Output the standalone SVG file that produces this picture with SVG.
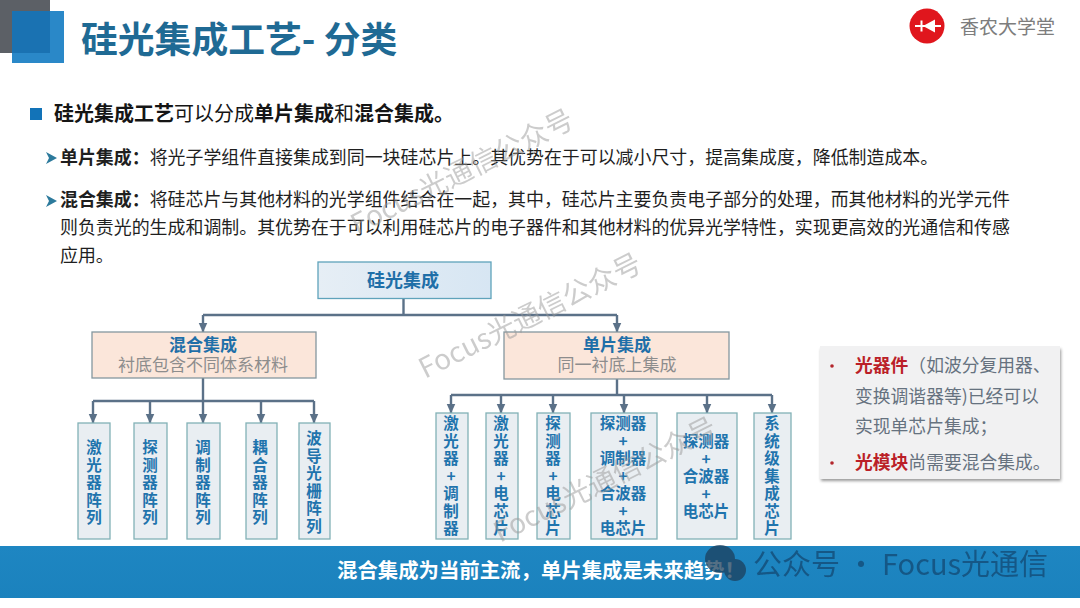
<svg xmlns="http://www.w3.org/2000/svg" width="1080" height="608" viewBox="0 0 1080 608">
<style>
text{font-family:"Noto Sans CJK SC","Microsoft YaHei",sans-serif}
.b{font-weight:700}
.t{fill:#1f1f1f;font-size:17.93px}
.h{fill:#151515;font-size:20px}
.lf{fill:#e9eef2;stroke:#82b1b6;stroke-width:1.3}
.lt{fill:#1f74ad;font-size:15.5px;font-weight:700;text-anchor:middle}
.pe{fill:#fbe6da;stroke:#84979f;stroke-width:1.3}
.pt{fill:#1f6fa8;font-size:17px;font-weight:700;text-anchor:middle}
.ps{fill:#8d8d8d;font-size:17px;text-anchor:middle}
.c{fill:none;stroke:#5b7188;stroke-width:2.4}
.s{fill:#66727f;font-size:17.8px}
.r{fill:#bb1f28;font-weight:700}
.w{fill:#9a9a9a;opacity:.5;font-size:28px}
</style>
<defs>
<marker id="a" markerUnits="userSpaceOnUse" markerWidth="11" markerHeight="10" refX="9.5" refY="4.5" orient="auto"><path d="M0 0L10 4.5L0 9z" fill="#5b7188"/></marker>
<filter id="sh" x="-5%" y="-5%" width="110%" height="115%"><feGaussianBlur stdDeviation="1.6"/></filter>
<linearGradient id="rg" x1="0" y1="0" x2="1" y2="0"><stop offset="0" stop-color="#e6eef5"/><stop offset="1" stop-color="#d7e6f3"/></linearGradient>
<linearGradient id="bg" x1="0" y1="0" x2="0" y2="1"><stop offset="0" stop-color="#1e86c2"/><stop offset="1" stop-color="#1b82bd"/></linearGradient>
</defs>
<rect width="1080" height="608" fill="#fff"/>

<g id="header">
<rect x="0" y="0" width="50" height="53" fill="#5c6066"/>
<rect x="12" y="11" width="52" height="52" fill="#2a88c8"/>
<rect x="12" y="11" width="38" height="42" fill="#1a72b2"/>
<text x="81" y="53" class="b" font-size="36.800" fill="#1f6a94">硅光集成工艺- 分类</text>
</g>
<g id="logo">
<circle cx="927" cy="26" r="17.5" fill="#e0161d"/>
<path d="M915 26H941" stroke="#fff" stroke-width="2" fill="none"/>
<path d="M923 26L935 19.500V32.500z" fill="#fff"/>
<path d="M921.500 20.500V31.500" stroke="#fff" stroke-width="2" fill="none"/>
<text x="960" y="34" font-size="19" fill="#7d7d7d">香农大学堂</text>
</g>

<g id="intro">
<rect x="30" y="108" width="12" height="12" fill="#1273b8"/>
<text x="54" y="121" class="h"><tspan class="b">硅光集成工艺</tspan>可以分成<tspan class="b">单片集成</tspan>和<tspan class="b">混合集成。</tspan></text>
<path d="M46 152L57 158L46 164L49 158z" fill="#2c7a9c"/>
<text x="60" y="164" class="t"><tspan class="b">单片集成&#xFF1A;</tspan>将光子学组件直接集成到同一块硅芯片上。其优势在于可以减小尺寸&#xFF0C;提高集成度&#xFF0C;降低制造成本。</text>
<path d="M46 195L57 201L46 207L49 201z" fill="#2c7a9c"/>
<text x="60" y="206" class="t"><tspan class="b">混合集成&#xFF1A;</tspan>将硅芯片与其他材料的光学组件结合在一起&#xFF0C;其中&#xFF0C;硅芯片主要负责电子部分的处理&#xFF0C;而其他材料的光学元件</text>
<text x="60" y="234" class="t">则负责光的生成和调制。其优势在于可以利用硅芯片的电子器件和其他材料的优异光学特性&#xFF0C;实现更高效的光通信和传感</text>
<text x="60" y="262" class="t">应用。</text>
</g>

<g id="connectors">
<path class="c" d="M403.500 298V315"/>
<path class="c" d="M203 315H617"/>
<path class="c" d="M203 315V332" marker-end="url(#a)"/>
<path class="c" d="M617 315V332" marker-end="url(#a)"/>
<path class="c" d="M203 378V423" marker-end="url(#a)"/>
<path class="c" d="M93 401H314"/>
<path class="c" d="M93 401V423" marker-end="url(#a)"/>
<path class="c" d="M150 401V423" marker-end="url(#a)"/>
<path class="c" d="M261 401V423" marker-end="url(#a)"/>
<path class="c" d="M314 401V423" marker-end="url(#a)"/>
<path class="c" d="M617 379V395"/>
<path class="c" d="M451 395H772"/>
<path class="c" d="M451 395V413" marker-end="url(#a)"/>
<path class="c" d="M501 395V413" marker-end="url(#a)"/>
<path class="c" d="M553 395V413" marker-end="url(#a)"/>
<path class="c" d="M624 395V413" marker-end="url(#a)"/>
<path class="c" d="M707 395V413" marker-end="url(#a)"/>
<path class="c" d="M772 395V413" marker-end="url(#a)"/>
</g>

<g id="root"><rect x="318" y="262" width="173" height="36.500" fill="url(#rg)" stroke="#5fa3bb" stroke-width="1.300"/><text x="403" y="287" class="b" font-size="18" fill="#1f6fa8" text-anchor="middle">硅光集成</text></g>

<g id="hybrid"><rect x="92" y="332" width="224" height="46" class="pe"/><text x="203" y="351" class="pt">混合集成</text><text x="203" y="371" class="ps">衬底包含不同体系材料</text></g>
<g id="mono"><rect x="504" y="332" width="225" height="47" class="pe"/><text x="617" y="351" class="pt">单片集成</text><text x="617" y="371" class="ps">同一衬底上集成</text></g>

<g id="h1"><rect x="78" y="423" width="32" height="116" class="lf"/><text class="lt"><tspan x="94" y="453">激</tspan><tspan x="94" dy="17.600">光</tspan><tspan x="94" dy="17.600">器</tspan><tspan x="94" dy="17.600">阵</tspan><tspan x="94" dy="17.600">列</tspan></text></g>
<g id="h2"><rect x="134" y="423" width="33" height="116" class="lf"/><text class="lt"><tspan x="150" y="453">探</tspan><tspan x="150" dy="17.600">测</tspan><tspan x="150" dy="17.600">器</tspan><tspan x="150" dy="17.600">阵</tspan><tspan x="150" dy="17.600">列</tspan></text></g>
<g id="h3"><rect x="187" y="423" width="33" height="116" class="lf"/><text class="lt"><tspan x="203" y="453">调</tspan><tspan x="203" dy="17.600">制</tspan><tspan x="203" dy="17.600">器</tspan><tspan x="203" dy="17.600">阵</tspan><tspan x="203" dy="17.600">列</tspan></text></g>
<g id="h4"><rect x="246" y="423" width="31" height="116" class="lf"/><text class="lt"><tspan x="260" y="453">耦</tspan><tspan x="260" dy="17.600">合</tspan><tspan x="260" dy="17.600">器</tspan><tspan x="260" dy="17.600">阵</tspan><tspan x="260" dy="17.600">列</tspan></text></g>
<g id="h5"><rect x="299" y="423" width="31" height="116" class="lf"/><text class="lt"><tspan x="314" y="444">波</tspan><tspan x="314" dy="17.600">导</tspan><tspan x="314" dy="17.600">光</tspan><tspan x="314" dy="17.600">栅</tspan><tspan x="314" dy="17.600">阵</tspan><tspan x="314" dy="17.600">列</tspan></text></g>

<g id="m1"><rect x="436" y="413" width="32" height="126" class="lf"/><text class="lt"><tspan x="451" y="429">激</tspan><tspan x="451" dy="17.500">光</tspan><tspan x="451" dy="17.500">器</tspan><tspan x="451" dy="17.500">+</tspan><tspan x="451" dy="17.500">调</tspan><tspan x="451" dy="17.500">制</tspan><tspan x="451" dy="17.500">器</tspan></text></g>
<g id="m2"><rect x="486" y="413" width="32" height="126" class="lf"/><text class="lt"><tspan x="501" y="429">激</tspan><tspan x="501" dy="17.500">光</tspan><tspan x="501" dy="17.500">器</tspan><tspan x="501" dy="17.500">+</tspan><tspan x="501" dy="17.500">电</tspan><tspan x="501" dy="17.500">芯</tspan><tspan x="501" dy="17.500">片</tspan></text></g>
<g id="m3"><rect x="537" y="413" width="33" height="126" class="lf"/><text class="lt"><tspan x="553" y="429">探</tspan><tspan x="553" dy="17.500">测</tspan><tspan x="553" dy="17.500">器</tspan><tspan x="553" dy="17.500">+</tspan><tspan x="553" dy="17.500">电</tspan><tspan x="553" dy="17.500">芯</tspan><tspan x="553" dy="17.500">片</tspan></text></g>
<g id="m4"><rect x="591" y="413" width="66" height="126" class="lf"/><text class="lt"><tspan x="623" y="429">探测器</tspan><tspan x="623" dy="17.500">+</tspan><tspan x="623" dy="17.500">调制器</tspan><tspan x="623" dy="17.500">+</tspan><tspan x="623" dy="17.500">合波器</tspan><tspan x="623" dy="17.500">+</tspan><tspan x="623" dy="17.500">电芯片</tspan></text></g>
<g id="m5"><rect x="677" y="413" width="60" height="126" class="lf"/><text class="lt"><tspan x="706" y="447">探测器</tspan><tspan x="706" dy="17.500">+</tspan><tspan x="706" dy="17.500">合波器</tspan><tspan x="706" dy="17.500">+</tspan><tspan x="706" dy="17.500">电芯片</tspan></text></g>
<g id="m6"><rect x="754" y="413" width="37" height="126" class="lf"/><text class="lt"><tspan x="772" y="429">系</tspan><tspan x="772" dy="17.500">统</tspan><tspan x="772" dy="17.500">级</tspan><tspan x="772" dy="17.500">集</tspan><tspan x="772" dy="17.500">成</tspan><tspan x="772" dy="17.500">芯</tspan><tspan x="772" dy="17.500">片</tspan></text></g>

<g id="note">
<rect x="821" y="349" width="240" height="132" fill="#555" opacity=".6" filter="url(#sh)"/>
<rect x="820" y="346" width="240" height="133" fill="#f1f1f2"/>
<circle cx="832" cy="366" r="1.800" fill="#b3262c"/>
<circle cx="832" cy="463" r="1.800" fill="#b3262c"/>
<text x="855" y="372" class="s"><tspan class="r">光器件</tspan>&#xFF08;如波分复用器、</text>
<text x="855" y="403" class="s">变换调谐器等)已经可以</text>
<text x="855" y="433" class="s">实现单芯片集成&#xFF1B;</text>
<text x="855" y="469" class="s"><tspan class="r">光模块</tspan>尚需要混合集成。</text>
</g>

<g id="banner">
<rect x="0" y="546" width="1080" height="52" fill="url(#bg)"/>
<text x="337" y="578" class="b" font-size="20.400" fill="#fff">混合集成为当前主流&#xFF0C;单片集成是未来趋势&#xFF01;</text>
</g>

<g id="watermarks">
<text class="w" transform="translate(357 235) rotate(-26.500)">Focus光通信公众号</text>
<text class="w" transform="translate(425 379) rotate(-26.500)">Focus光通信公众号</text>
<text class="w" transform="translate(500 543) rotate(-26.500)">Focus光通信公众号</text>
<g fill="#1c3f5c" opacity=".75">
<ellipse cx="720" cy="559" rx="15" ry="14"/>
<ellipse cx="735" cy="570" rx="11" ry="11"/>
</g>
<text x="753" y="575" font-size="29" fill="#14507c" opacity=".85">公众号 · Focus光通信</text>
</g>
</svg>
